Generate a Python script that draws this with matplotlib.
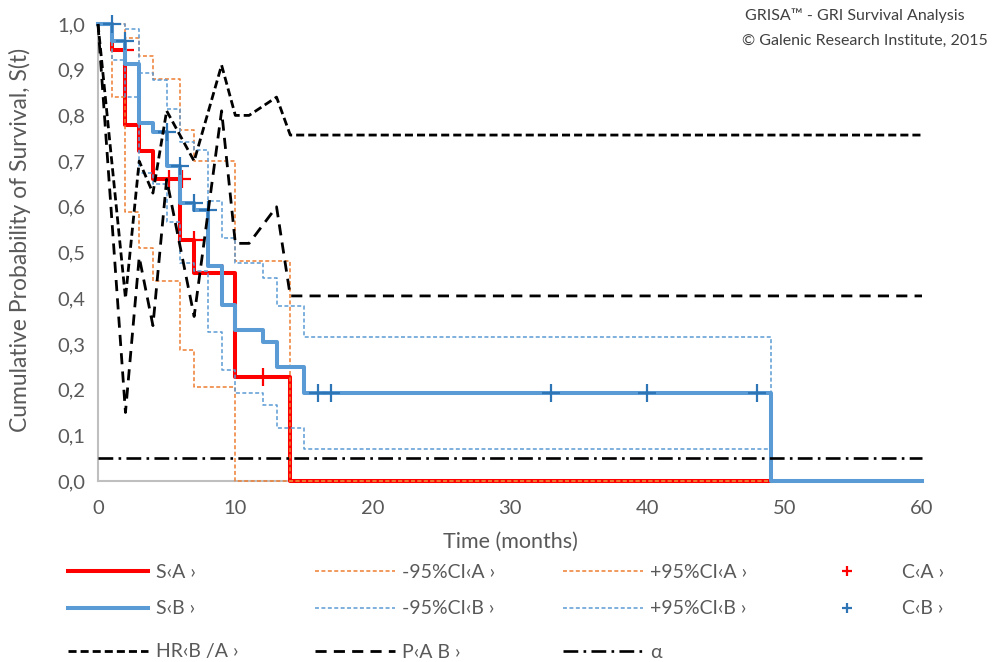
import matplotlib
matplotlib.use('Agg')
import matplotlib.pyplot as plt
from matplotlib.ticker import FuncFormatter, MultipleLocator

plt.rcParams['font.family'] = ['Lato', 'DejaVu Sans']

# ---------------- data ----------------
# Kaplan-Meier group A
t_A = [0, 1, 2, 3, 4, 6, 7, 10, 14, 49]
S_A = [1.0, 0.944, 0.778, 0.722, 0.660, 0.527, 0.456, 0.228, 0.0, 0.0]
lo_A = [1.0, 0.840, 0.589, 0.510, 0.437, 0.287, 0.206, 0.0, 0.0, 0.0]
hi_A = [1.0, 1.0, 0.970, 0.930, 0.880, 0.768, 0.700, 0.482, 0.0, 0.0]
cA_t = [2, 5.2, 6.1, 7, 9, 12]
cA_s = [0.944, 0.660, 0.660, 0.527, 0.456, 0.228]

# Kaplan-Meier group B
t_B = [0, 1, 2, 3, 4, 5, 6, 7, 8, 9, 10, 12, 13, 15, 49, 60]
S_B = [1.0, 0.963, 0.913, 0.783, 0.764, 0.690, 0.608, 0.593, 0.470, 0.385,
       0.330, 0.305, 0.250, 0.193, 0.0, 0.0]
tci_B = [0, 1, 2, 3, 4, 5, 6, 7, 8, 9, 10, 12, 13, 15, 49]
lo_B = [1.0, 0.921, 0.841, 0.673, 0.650, 0.567, 0.478, 0.460, 0.327, 0.243,
        0.193, 0.166, 0.115, 0.070, 0.0]
hi_B = [1.0, 1.0, 0.988, 0.893, 0.878, 0.815, 0.742, 0.724, 0.612, 0.531,
        0.478, 0.444, 0.384, 0.316, 0.0]
cB_t = [1, 2, 5, 6, 7, 8, 16, 17, 33, 40, 48]
cB_s = [1.0, 0.963, 0.764, 0.690, 0.608, 0.593, 0.193, 0.193, 0.193, 0.193, 0.193]

# Hazard ratio B/A and P value
hr_t = [0, 2, 3, 4, 5, 7, 9, 10, 11, 13, 14, 60]
hr_v = [1.0, 0.40, 0.70, 0.63, 0.81, 0.70, 0.91, 0.80, 0.80, 0.84, 0.757, 0.757]
p_t = [0, 2, 3, 4, 5, 7, 9, 10, 11, 13, 14, 60]
p_v = [1.0, 0.15, 0.49, 0.34, 0.66, 0.36, 0.81, 0.52, 0.52, 0.60, 0.405, 0.405]
alpha_t = [0, 60]
alpha_v = [0.05, 0.05]

labels = ['S‹A ›', '-95%CI‹A ›', '+95%CI‹A ›', 'C‹A ›',
          'S‹B ›', '-95%CI‹B ›', '+95%CI‹B ›', 'C‹B ›',
          'HR‹B /A ›', 'P‹A B ›', 'α']

RED = '#FF0000'
ORANGE = '#ED7D31'
BLUE = '#5B9BD5'
DBLUE = '#2E75B6'
GRAY_TXT = '#595959'

W, H = 1006, 662
fig = plt.figure(figsize=(W / 100, H / 100), dpi=100)
ax = fig.add_axes([98 / W, 1 - 481 / H, (922 - 98) / W, (481 - 24) / H])

ci_dash = (0, (2.6, 1.6))
h = {}
h[0], = ax.step(t_A, S_A, where='post', color=RED, lw=2.9, clip_on=False, zorder=3)
h[1], = ax.step(t_A, lo_A, where='post', color=ORANGE, lw=1.1, ls=ci_dash, clip_on=False, zorder=4)
h[2], = ax.step(t_A, hi_A, where='post', color=ORANGE, lw=1.1, ls=ci_dash, clip_on=False, zorder=4)
h[3], = ax.plot(cA_t, cA_s, ls='none', marker='+', ms=13, mew=1.6, color=RED, clip_on=False, zorder=5)
h[4], = ax.step(t_B, S_B, where='post', color=BLUE, lw=2.9, clip_on=False, zorder=6)
h[5], = ax.step(tci_B, lo_B, where='post', color=BLUE, lw=1.1, ls=ci_dash, clip_on=False, zorder=7)
h[6], = ax.step(tci_B, hi_B, where='post', color=BLUE, lw=1.1, ls=ci_dash, clip_on=False, zorder=7)
h[7], = ax.plot(cB_t, cB_s, ls='none', marker='+', ms=13, mew=1.6, color=DBLUE, clip_on=False, zorder=8)
h[8], = ax.plot(hr_t, hr_v, color='black', lw=2.0, ls=(0, (2.9, 1.45)), clip_on=False, zorder=9)
h[9], = ax.plot(p_t, p_v, color='black', lw=2.0, ls=(0, (4.0, 2.6)), clip_on=False, zorder=9)
h[10], = ax.plot(alpha_t, alpha_v, color='black', lw=1.9, ls=(0, (5.6, 2.0, 1.0, 2.0)), clip_on=False, zorder=9)

ax.set_xlim(0, 60)
ax.set_ylim(0, 1.0)
ax.xaxis.set_major_locator(MultipleLocator(10))
ax.yaxis.set_major_locator(MultipleLocator(0.1))
ax.yaxis.set_major_formatter(FuncFormatter(lambda v, p: f'{v:.1f}'.replace('.', ',')))
ax.tick_params(length=0, labelsize=14.5, colors=GRAY_TXT)
ax.tick_params(axis='y', pad=9)
ax.tick_params(axis='x', pad=14)
for s in ('top', 'right'):
    ax.spines[s].set_visible(False)
for s in ('left', 'bottom'):
    ax.spines[s].set_color('#BFBFBF')
    ax.spines[s].set_linewidth(1.5)

fig.text(510 / W, 1 - 542 / H, 'Time (months)', ha='center', va='center',
         fontsize=15.5, color=GRAY_TXT)
fig.text(20 / W, 1 - 240 / H, 'Cumulative Probability of Survival, S(t)',
         ha='center', va='center', rotation=90, fontsize=16.5, color=GRAY_TXT)
fig.text(745 / W, 1 - 16 / H, 'GRISA™ - GRI Survival Analysis', ha='left',
         va='center', fontsize=11.5, color='#404040')
fig.text(742 / W, 1 - 41 / H, '© Galenic Research Institute, 2015', ha='left',
         va='center', fontsize=11.5, color='#404040')

# legend: 4 columns x 3 rows, one legend per cell for exact placement
col_x = [68, 315, 563, 807]
row_y = [572, 609, 652]
for i, lab in enumerate(labels):
    r, c = divmod(i, 4)
    leg = fig.legend([h[i]], [lab], loc='center left',
                     bbox_to_anchor=(col_x[c] / W, 1 - row_y[r] / H),
                     frameon=False, borderpad=0, borderaxespad=0,
                     handlelength=4.1, handletextpad=0.4 if c < 3 else 0.8,
                     fontsize=14, markerscale=0.6, labelcolor=GRAY_TXT)

fig.savefig('out.png', dpi=100)
